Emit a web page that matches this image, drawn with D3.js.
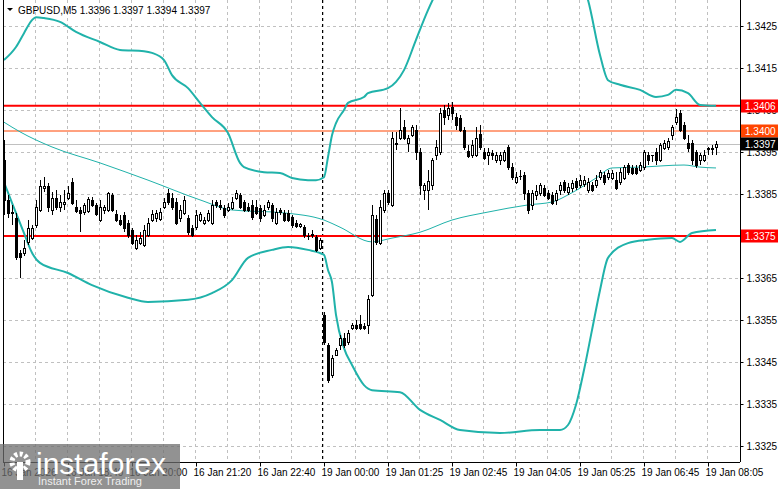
<!DOCTYPE html>
<html>
<head>
<meta charset="utf-8">
<script src="https://cdn.jsdelivr.net/npm/d3@7"></script>
<style>
  body { margin: 0; background: #fff; }
  svg text { font-family: "Liberation Sans", Arial, sans-serif; }
</style>
</head>
<body>
<div id="chart"></div>
<script>
const WIDTH = 781;
const HEIGHT = 489;
const PLOT_LEFT = 3;
const PLOT_RIGHT = 740;
const PLOT_BOTTOM = 462;

const opens = [
  1.33931,1.33836,1.33805,1.33793,1.33710,1.33710,1.33736,1.33745,1.33776,1.33812,
  1.33864,1.33869,1.33812,1.33841,1.33819,1.33826,1.33841,1.33878,1.33819,1.33812,
  1.33807,1.33810,1.33836,1.33824,1.33788,1.33812,1.33812,1.33848,1.33802,1.33788,
  1.33800,1.33781,1.33764,1.33722,1.33733,1.33729,1.33752,1.33788,1.33793,1.33790,
  1.33819,1.33853,1.33841,1.33831,1.33793,1.33805,1.33793,1.33769,1.33771,1.33788,
  1.33781,1.33788,1.33781,1.33831,1.33824,1.33817,1.33812,1.33817,1.33841,1.33848,
  1.33831,1.33819,1.33824,1.33819,1.33817,1.33800,1.33819,1.33824,1.33781,1.33812,
  1.33805,1.33805,1.33795,1.33781,1.33774,1.33771,1.33750,1.33752,1.33748,1.33722,
  1.33562,1.33490,1.33419,1.33467,1.33490,1.33507,1.33497,1.33531,1.33538,1.33540,
  1.33536,1.33538,1.33610,1.33790,1.33733,1.33812,1.33853,1.33824,1.33971,1.33983,
  1.34010,1.33971,1.33990,1.34002,1.33950,1.33860,1.33860,1.33871,1.33943,1.33950,
  1.34050,1.34038,1.34057,1.34033,1.34031,1.34002,1.33952,1.33943,1.33943,1.33993,
  1.33950,1.33943,1.33948,1.33931,1.33931,1.33931,1.33962,1.33914,1.33878,1.33893,
  1.33895,1.33853,1.33824,1.33848,1.33853,1.33864,1.33853,1.33848,1.33836,1.33860,
  1.33878,1.33855,1.33864,1.33881,1.33871,1.33874,1.33860,1.33871,1.33871,1.33890,
  1.33895,1.33890,1.33888,1.33883,1.33878,1.33888,1.33919,1.33912,1.33912,1.33907,
  1.33914,1.33943,1.33943,1.33950,1.33931,1.33960,1.33962,1.33990,1.34021,1.34043,
  1.34014,1.33971,1.33971,1.33950,1.33931,1.33931,1.33960,1.33960,1.33962
];
const highs = [
  1.33979,1.33848,1.33824,1.33805,1.33717,1.33741,1.33788,1.33776,1.33836,1.33883,
  1.33890,1.33876,1.33855,1.33860,1.33848,1.33860,1.33869,1.33888,1.33836,1.33819,
  1.33829,1.33843,1.33843,1.33829,1.33836,1.33824,1.33855,1.33853,1.33812,1.33800,
  1.33807,1.33788,1.33769,1.33752,1.33759,1.33776,1.33793,1.33812,1.33812,1.33817,
  1.33841,1.33862,1.33853,1.33841,1.33824,1.33845,1.33800,1.33776,1.33812,1.33807,
  1.33795,1.33812,1.33836,1.33836,1.33836,1.33824,1.33829,1.33843,1.33860,1.33853,
  1.33836,1.33829,1.33836,1.33836,1.33824,1.33824,1.33836,1.33829,1.33817,1.33817,
  1.33812,1.33812,1.33800,1.33788,1.33781,1.33776,1.33757,1.33764,1.33752,1.33745,
  1.33569,1.33495,1.33467,1.33484,1.33514,1.33519,1.33526,1.33543,1.33550,1.33562,
  1.33543,1.33610,1.33824,1.33800,1.33836,1.33860,1.33860,1.33998,1.33998,1.34055,
  1.34026,1.33990,1.34014,1.34014,1.33960,1.33876,1.33907,1.33936,1.33979,1.34055,
  1.34062,1.34067,1.34069,1.34043,1.34038,1.34010,1.33967,1.33979,1.34010,1.34014,
  1.33960,1.33960,1.33955,1.33950,1.33950,1.33955,1.33967,1.33924,1.33902,1.33907,
  1.33902,1.33860,1.33860,1.33871,1.33876,1.33871,1.33860,1.33855,1.33860,1.33878,
  1.33883,1.33876,1.33883,1.33888,1.33895,1.33893,1.33888,1.33878,1.33895,1.33907,
  1.33902,1.33907,1.33907,1.33902,1.33912,1.33919,1.33924,1.33919,1.33919,1.33926,
  1.33955,1.33950,1.33943,1.33960,1.33971,1.33979,1.33983,1.34014,1.34052,1.34050,
  1.34021,1.33990,1.33979,1.33955,1.33948,1.33955,1.33962,1.33967,1.33976
];
const lows = [
  1.33800,1.33793,1.33776,1.33693,1.33650,1.33703,1.33729,1.33741,1.33769,1.33807,
  1.33855,1.33807,1.33800,1.33812,1.33807,1.33812,1.33836,1.33824,1.33805,1.33759,
  1.33800,1.33805,1.33819,1.33798,1.33783,1.33802,1.33807,1.33807,1.33783,1.33774,
  1.33759,1.33745,1.33729,1.33717,1.33729,1.33724,1.33748,1.33783,1.33783,1.33786,
  1.33814,1.33824,1.33812,1.33776,1.33783,1.33800,1.33752,1.33748,1.33764,1.33783,
  1.33776,1.33783,1.33776,1.33817,1.33812,1.33793,1.33807,1.33812,1.33836,1.33814,
  1.33807,1.33807,1.33788,1.33800,1.33783,1.33795,1.33812,1.33783,1.33776,1.33800,
  1.33783,1.33783,1.33769,1.33769,1.33769,1.33745,1.33741,1.33745,1.33712,1.33717,
  1.33490,1.33400,1.33412,1.33464,1.33479,1.33484,1.33490,1.33526,1.33526,1.33526,
  1.33526,1.33516,1.33605,1.33729,1.33729,1.33805,1.33824,1.33819,1.33955,1.33979,
  1.33979,1.33950,1.33986,1.33931,1.33848,1.33836,1.33812,1.33860,1.33931,1.33943,
  1.34014,1.34026,1.34026,1.34002,1.33998,1.33955,1.33936,1.33936,1.33938,1.33955,
  1.33931,1.33919,1.33931,1.33924,1.33919,1.33926,1.33907,1.33883,1.33874,1.33883,
  1.33836,1.33802,1.33812,1.33836,1.33845,1.33843,1.33836,1.33824,1.33824,1.33848,
  1.33853,1.33848,1.33855,1.33860,1.33864,1.33867,1.33853,1.33855,1.33864,1.33883,
  1.33871,1.33883,1.33883,1.33860,1.33871,1.33883,1.33895,1.33895,1.33895,1.33902,
  1.33907,1.33919,1.33926,1.33919,1.33926,1.33955,1.33955,1.33979,1.34014,1.33998,
  1.33979,1.33950,1.33919,1.33912,1.33919,1.33926,1.33943,1.33943,1.33943
];
const closes = [
  1.33836,1.33805,1.33807,1.33700,1.33700,1.33722,1.33769,1.33769,1.33819,1.33869,
  1.33869,1.33819,1.33841,1.33819,1.33831,1.33831,1.33853,1.33829,1.33810,1.33805,
  1.33824,1.33838,1.33824,1.33802,1.33819,1.33819,1.33853,1.33812,1.33788,1.33778,
  1.33769,1.33752,1.33733,1.33741,1.33745,1.33764,1.33781,1.33802,1.33805,1.33807,
  1.33831,1.33831,1.33819,1.33781,1.33812,1.33836,1.33759,1.33752,1.33800,1.33802,
  1.33788,1.33805,1.33824,1.33824,1.33819,1.33800,1.33819,1.33831,1.33853,1.33819,
  1.33812,1.33812,1.33795,1.33805,1.33793,1.33812,1.33831,1.33793,1.33807,1.33807,
  1.33788,1.33788,1.33776,1.33774,1.33778,1.33752,1.33749,1.33755,1.33717,1.33741,
  1.33497,1.33407,1.33460,1.33479,1.33507,1.33490,1.33519,1.33538,1.33531,1.33531,
  1.33531,1.33600,1.33800,1.33736,1.33819,1.33853,1.33831,1.33983,1.33969,1.34002,
  1.33983,1.33983,1.34010,1.33950,1.33871,1.33871,1.33881,1.33931,1.33962,1.34043,
  1.34033,1.34055,1.34043,1.34014,1.34002,1.33962,1.33940,1.33967,1.33983,1.33962,
  1.33936,1.33950,1.33943,1.33943,1.33943,1.33950,1.33914,1.33890,1.33890,1.33892,
  1.33853,1.33812,1.33853,1.33857,1.33871,1.33848,1.33841,1.33829,1.33853,1.33871,
  1.33860,1.33867,1.33876,1.33867,1.33883,1.33883,1.33878,1.33860,1.33883,1.33902,
  1.33878,1.33900,1.33900,1.33864,1.33902,1.33914,1.33902,1.33900,1.33900,1.33919,
  1.33950,1.33931,1.33942,1.33931,1.33967,1.33971,1.33976,1.34010,1.34033,1.34002,
  1.33983,1.33960,1.33931,1.33919,1.33943,1.33943,1.33958,1.33958,1.33970
];

// Bollinger bands, read at selected bar indices
const upperIdx = [0,3,5,7,8,10,14,18,24,29,35,37,40,42,46,49,52,56,59,60,65,69,72,76,78,80,81,82,83,85,86,90,91,96,98,100,103,106,110,120,130,140,143,146,149,151,154,159,163,166,168,171,174,178];
const upperVal = [1.34169,1.34200,1.34233,1.34264,1.34271,1.34269,1.34260,1.34236,1.34212,1.34193,1.34190,1.34186,1.34169,1.34133,1.34102,1.34067,1.34033,1.33995,1.33924,1.33914,1.33902,1.33900,1.33888,1.33883,1.33883,1.33890,1.33938,1.33990,1.34019,1.34050,1.34067,1.34081,1.34090,1.34102,1.34117,1.34145,1.34217,1.34288,1.34360,1.34419,1.34443,1.34431,1.34383,1.34312,1.34181,1.34121,1.34110,1.34098,1.34081,1.34086,1.34098,1.34090,1.34062,1.34060];
const middleIdx = [0,4,12,24,36,49,57,70,80,84,92,97,104,112,121,131,137,142,148,152,159,170,174,178];
const middleVal = [1.34021,1.33998,1.33962,1.33924,1.33883,1.33836,1.33812,1.33805,1.33788,1.33771,1.33736,1.33745,1.33759,1.33788,1.33807,1.33824,1.33831,1.33853,1.33888,1.33912,1.33914,1.33919,1.33914,1.33912];
const lowerIdx = [0,2,5,7,9,16,22,31,36,46,52,57,61,67,71,76,80,81,82,83,85,87,90,92,99,104,109,114,124,134,139,141,143,145,147,149,151,156,161,167,169,172,178];
const lowerVal = [1.33878,1.33829,1.33757,1.33710,1.33686,1.33662,1.33633,1.33603,1.33593,1.33598,1.33614,1.33645,1.33698,1.33717,1.33724,1.33717,1.33705,1.33669,1.33640,1.33562,1.33483,1.33443,1.33395,1.33383,1.33378,1.33336,1.33312,1.33288,1.33281,1.33288,1.33288,1.33300,1.33348,1.33431,1.33526,1.33621,1.33698,1.33733,1.33741,1.33745,1.33736,1.33757,1.33764];

const priceTicks = [1.3425, 1.3415, 1.3405, 1.3395, 1.3385, 1.3375, 1.3365, 1.3355, 1.3345, 1.3335, 1.3325];
const timeTickIdx = [0, 16, 32, 48, 64, 80, 96, 112, 128, 144, 160, 176];
const timeTickLabels = ["16 Jan 2026", "16 Jan 18:40", "16 Jan 20:00", "16 Jan 21:20", "16 Jan 22:40", "19 Jan 00:00",
  "19 Jan 01:25", "19 Jan 02:45", "19 Jan 04:05", "19 Jan 05:25", "19 Jan 06:45", "19 Jan 08:05"];
const levelPrices = [1.3406, 1.3400, 1.3375];
const levelColors = ["#ff0000", "#ff4500", "#ff0000"];
const levelWidths = [2, 1, 2];
const lastPrice = 1.3397;
const sessionBreak = 80;

const n = closes.length;
const x = d3.scaleLinear().domain([0, 178]).range([4, 716]);
const y = d3.scaleLinear().domain([1.3325, 1.3425]).range([446, 26]);

const svg = d3.select("#chart").append("svg")
  .attr("width", WIDTH).attr("height", HEIGHT);

svg.append("defs").append("clipPath").attr("id", "plot")
  .append("rect").attr("x", PLOT_LEFT).attr("y", 0)
  .attr("width", PLOT_RIGHT - PLOT_LEFT).attr("height", PLOT_BOTTOM);

const plot = svg.append("g").attr("clip-path", "url(#plot)");

// grid
const gridX = d3.range(8, 179, 8);
plot.selectAll(".vgrid").data(gridX).enter().append("line")
  .attr("x1", d => Math.round(x(d)) - 0.5).attr("x2", d => Math.round(x(d)) - 0.5)
  .attr("y1", 0).attr("y2", PLOT_BOTTOM)
  .attr("stroke", "#c0c0c0").attr("stroke-dasharray", "3,3");
plot.selectAll(".hgrid").data(priceTicks).enter().append("line")
  .attr("x1", PLOT_LEFT).attr("x2", PLOT_RIGHT)
  .attr("y1", d => Math.round(y(d)) + 0.5).attr("y2", d => Math.round(y(d)) + 0.5)
  .attr("stroke", "#c0c0c0").attr("stroke-dasharray", "3,3");

// session separator
plot.append("line")
  .attr("x1", Math.round(x(sessionBreak)) - 1.5).attr("x2", Math.round(x(sessionBreak)) - 1.5)
  .attr("y1", 0).attr("y2", PLOT_BOTTOM)
  .attr("stroke", "#000").attr("stroke-dasharray", "3,3");

// levels
plot.append("line")
  .attr("x1", PLOT_LEFT).attr("x2", PLOT_RIGHT)
  .attr("y1", Math.round(y(lastPrice)) + 0.5).attr("y2", Math.round(y(lastPrice)) + 0.5)
  .attr("stroke", "#c0c0c0");
levelPrices.forEach((p, k) => {
  plot.append("line")
    .attr("x1", PLOT_LEFT).attr("x2", PLOT_RIGHT)
    .attr("y1", y(p)).attr("y2", y(p))
    .attr("stroke", levelColors[k]).attr("stroke-width", levelWidths[k]);
});

// bands
function band(idx, vals, w) {
  const line = d3.line().x(d => x(d[0])).y(d => y(d[1])).curve(d3.curveMonotoneX);
  plot.append("path").datum(d3.zip(idx, vals)).attr("d", line)
    .attr("fill", "none").attr("stroke", "#20b2aa").attr("stroke-width", w);
}
band(upperIdx, upperVal, 2);
band(middleIdx, middleVal, 1);
band(lowerIdx, lowerVal, 2);

// candles
const candles = d3.range(n).map(i => ({ i, o: opens[i], h: highs[i], l: lows[i], c: closes[i] }));
const cg = plot.append("g").attr("shape-rendering", "crispEdges");
cg.selectAll(".wick").data(candles).enter().append("line")
  .attr("x1", d => Math.round(x(d.i)) + 0.5).attr("x2", d => Math.round(x(d.i)) + 0.5)
  .attr("y1", d => Math.round(y(d.h))).attr("y2", d => Math.round(y(d.l)))
  .attr("stroke", "#000");
cg.selectAll(".body").data(candles).enter().append("rect")
  .attr("x", d => Math.round(x(d.i)) - 0.5)
  .attr("y", d => Math.round(y(Math.max(d.o, d.c))) + 0.5)
  .attr("width", 2)
  .attr("height", d => Math.max(0.01, Math.round(y(Math.min(d.o, d.c))) - Math.round(y(Math.max(d.o, d.c)))))
  .attr("fill", d => d.c >= d.o ? "#fff" : "#000")
  .attr("stroke", "#000");

// frame
svg.append("line").attr("x1", PLOT_LEFT + 0.5).attr("x2", PLOT_LEFT + 0.5).attr("y1", 0).attr("y2", PLOT_BOTTOM).attr("stroke", "#000");
svg.append("line").attr("x1", PLOT_LEFT).attr("x2", PLOT_RIGHT).attr("y1", PLOT_BOTTOM + 0.5).attr("y2", PLOT_BOTTOM + 0.5).attr("stroke", "#000");

// right axis
const yAxis = svg.append("g").attr("transform", `translate(${PLOT_RIGHT + 0.5},0)`)
  .call(d3.axisRight(y).tickValues(priceTicks).tickFormat(d3.format(".4f")).tickSize(3).tickPadding(3));
yAxis.select(".domain").attr("d", `M0,0V${PLOT_BOTTOM}`);
yAxis.selectAll("text").attr("font-size", 10).attr("font-family", "Liberation Sans, Arial").attr("fill", "#000");

// bottom axis
const xAxis = svg.append("g").attr("transform", `translate(0,${PLOT_BOTTOM + 0.5})`)
  .call(d3.axisBottom(x).tickValues(timeTickIdx).tickFormat((d, k) => timeTickLabels[k]).tickSize(4));
xAxis.select(".domain").remove();
xAxis.selectAll("text").attr("text-anchor", "start").attr("dx", -3).attr("dy", 6)
  .attr("font-size", 10).attr("font-family", "Liberation Sans, Arial").attr("fill", "#000");

// price labels
function priceTag(p, fill) {
  const g = svg.append("g").attr("transform", `translate(${PLOT_RIGHT + 1},${Math.round(y(p))})`);
  g.append("rect").attr("x", 0).attr("y", -6.5).attr("width", 37).attr("height", 13).attr("fill", fill);
  g.append("text").attr("x", 4).attr("y", 4).attr("font-size", 10).attr("fill", "#fff").text(d3.format(".4f")(p));
}
levelPrices.forEach((p, k) => priceTag(p, k === 1 ? "#ff4500" : "#ff0000"));
priceTag(lastPrice, "#000");

// title
svg.append("path").attr("d", "M7,8 L13,8 L10,11 Z").attr("fill", "#000");
svg.append("text").attr("x", 18).attr("y", 14).attr("font-size", 10).attr("fill", "#000")
  .text("GBPUSD,M5  1.3396 1.3397 1.3394 1.3397");

// watermark
const wm = svg.append("g");
wm.append("rect").attr("x", 0).attr("y", 444).attr("width", 180).attr("height", 45).attr("fill", "#6e6e6e").attr("opacity", 0.75);
wm.append("circle").attr("cx", 20).attr("cy", 462).attr("r", 8).attr("fill", "none")
  .attr("stroke", "#fff").attr("stroke-width", 5).attr("stroke-dasharray", "3,2.3");
wm.append("rect").attr("x", 17).attr("y", 462).attr("width", 6).attr("height", 18).attr("fill", "#fff");
wm.append("text").attr("x", 36).attr("y", 474).attr("font-size", 30).attr("font-family", "Open Sans, sans-serif")
  .attr("fill", "#fff").attr("font-weight", 300).text("instaforex");
wm.append("text").attr("x", 38).attr("y", 485).attr("font-size", 11).attr("fill", "#eee").text("Instant Forex Trading");
</script>
</body>
</html>
